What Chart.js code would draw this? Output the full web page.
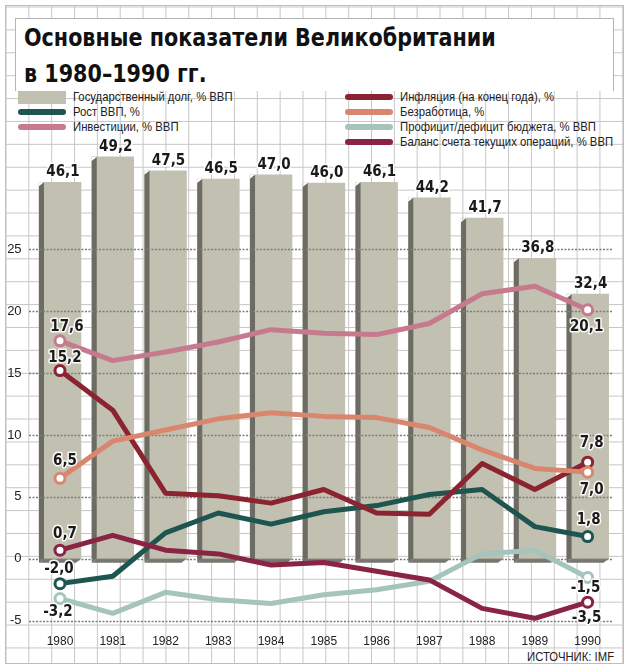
<!DOCTYPE html>
<html>
<head>
<meta charset="utf-8">
<script src="https://cdn.jsdelivr.net/npm/chart.js@4.4.1/dist/chart.umd.min.js"></script>
<style>
  body { margin: 0; background: #fff; width: 629px; height: 672px; overflow: hidden; position: relative; }
  #paper {
    position: absolute; left: 5px; top: 5px; width: 617px; height: 657px;
    border: 1px solid #bdbdbd;
    background-color: #fff;
    background-image: linear-gradient(to right, #c6c6c6 1px, transparent 1px),
                      linear-gradient(to bottom, #c6c6c6 1px, transparent 1px);
    background-size: 22.85px 22.9px;
    background-position: -0.5px 0.5px;
  }
  #titlebox {
    position: absolute; left: 15px; top: 18px; width: 597px; height: 72px;
    background: #fff; border: 1px solid #b5b5b5; border-bottom: none;
  }
  #title {
    position: absolute; left: 24px; top: 20px;
    font-family: "DejaVu Sans Condensed", "DejaVu Sans"; font-weight: bold;
    font-size: 25px; line-height: 36px; color: #111; white-space: nowrap;
    transform: scaleX(0.92); transform-origin: left top;
  }
  .leg { position: absolute; height: 14px; font-family: "Liberation Sans", Arial; font-size: 13px; color: #222; white-space: nowrap; }
  .leg span.sw { position: absolute; left: 0; }
  .leg span.tx { position: absolute; line-height: 14px; top: 0; transform: scaleX(0.87); transform-origin: left top; }
  #src { position: absolute; right: 15px; top: 649px; font-family: "Liberation Sans", Arial; font-size: 13px; color: #222;
         transform: scaleX(0.87); transform-origin: right top; }
  canvas { position: absolute; left: 0; top: 0; }
</style>
</head>
<body>
<div id="paper"></div>
<div id="titlebox"></div>
<div id="title">Основные показатели Великобритании<br>в 1980–1990 гг.</div>
<div id="legend"></div>
<div id="src">ИСТОЧНИК: IMF</div>
<canvas id="chart" width="629" height="672"></canvas>
<script>
const years = ["1980", "1981", "1982", "1983", "1984", "1985", "1986", "1987", "1988", "1989", "1990"];
const debt = [46.1, 49.2, 47.5, 46.5, 47.0, 46.0, 46.1, 44.2, 41.7, 36.8, 32.4];
const gdpGrowth = [-2.0, -1.4, 2.1, 3.7, 2.8, 3.8, 4.3, 5.2, 5.6, 2.6, 1.8];
const investment = [17.6, 16.0, 16.7, 17.5, 18.5, 18.2, 18.1, 19.0, 21.4, 22.0, 20.1];
const inflation = [15.2, 12.0, 5.3, 5.1, 4.5, 5.6, 3.7, 3.6, 7.7, 5.6, 7.8];
const unemployment = [6.5, 9.5, 10.4, 11.3, 11.8, 11.5, 11.4, 10.6, 8.8, 7.3, 7.0];
const budget = [-3.2, -4.4, -2.7, -3.3, -3.6, -2.9, -2.5, -1.8, 0.4, 0.7, -1.5];
const account = [0.7, 1.9, 0.7, 0.4, -0.5, -0.3, -1.0, -1.7, -4.0, -4.8, -3.5];
const yTicks = [-5, 0, 5, 10, 15, 20, 25];

const yMin = -5.5, yMax = 33;
const barK = 1.5165; // bar axis is stretched vs line axis, zero shared

const faceColor = "#c2c0b1";
const lines = [
  { label: "Рост ВВП, %", data: gdpGrowth, color: "#1e5550", first: [-1, -15], last: [1, -16] },
  { label: "Инвестиции, % ВВП", data: investment, color: "#c77a8d", first: [7, -14], last: [-1, 17] },
  { label: "Инфляция (на конец года), %", data: inflation, color: "#8c2330", first: [5, -12], last: [4, -19] },
  { label: "Безработица, %", data: unemployment, color: "#d9866f", first: [5, -17], last: [4, 18] },
  { label: "Профицит/дефицит бюджета, % ВВП", data: budget, color: "#a5c4bb", first: [-2, 14], last: [-2, 11] },
  { label: "Баланс счета текущих операций, % ВВП", data: account, color: "#8a2444", first: [5, -16], last: [-1, 16] },
];

// legend (html, two columns)
const legendItems = [
  { text: "Государственный долг, % ВВП", color: faceColor, bar: true, x: 18, y: 97 },
  { text: lines[0].label, color: lines[0].color, x: 18, y: 112 },
  { text: lines[1].label, color: lines[1].color, x: 18, y: 127 },
  { text: lines[2].label, color: lines[2].color, x: 345, y: 97 },
  { text: lines[3].label, color: lines[3].color, x: 345, y: 112 },
  { text: lines[4].label, color: lines[4].color, x: 345, y: 127 },
  { text: lines[5].label, color: lines[5].color, x: 345, y: 142 },
];
const legendEl = document.getElementById("legend");
legendItems.forEach(it => {
  const d = document.createElement("div");
  d.className = "leg";
  d.style.left = it.x + "px";
  d.style.top = (it.y - 7) + "px";
  const sw = document.createElement("span");
  sw.className = "sw";
  sw.style.width = "48px";
  sw.style.background = it.color;
  if (it.bar) { sw.style.height = "13px"; sw.style.top = "1px"; }
  else { sw.style.height = "6px"; sw.style.top = "4px"; sw.style.borderRadius = "3px"; }
  const tx = document.createElement("span");
  tx.className = "tx";
  tx.style.left = "55px";
  tx.textContent = it.text;
  d.appendChild(sw);
  d.appendChild(tx);
  legendEl.appendChild(d);
});

function fmt(v) { return v.toFixed(1).replace(".", ","); }

function drawLabel(ctx, text, x, y) {
  ctx.font = "bold 15px 'DejaVu Sans Condensed', 'DejaVu Sans'";
  ctx.textAlign = "center";
  ctx.textBaseline = "middle";
  ctx.lineJoin = "round";
  ctx.lineWidth = 3;
  ctx.strokeStyle = "rgba(255,255,255,0.9)";
  ctx.strokeText(text, x, y);
  ctx.fillStyle = "#1a1a1a";
  ctx.fillText(text, x, y);
}

const bar3d = {
  id: "bar3d",
  afterDatasetDraw(chart, args) {
    if (args.index !== 0) return;
    const ctx = chart.ctx;
    const d = 5, h = 4;
    ctx.save();
    args.meta.data.forEach(b => {
      const L = b.x - b.width / 2, R = b.x + b.width / 2, T = b.y, B = b.base;
      ctx.globalCompositeOperation = "destination-out";
      ctx.beginPath();
      ctx.moveTo(L, T); ctx.lineTo(L + d, T); ctx.lineTo(L, T + h); ctx.closePath();
      ctx.fill();
      ctx.globalCompositeOperation = "source-over";
      ctx.fillStyle = "#6c6c64";
      ctx.beginPath();
      ctx.moveTo(L + d, T); ctx.lineTo(L, T + h); ctx.lineTo(L, B + h); ctx.lineTo(L + d, B);
      ctx.closePath(); ctx.fill();
      ctx.fillStyle = "#77776f";
      ctx.beginPath();
      ctx.moveTo(L + d, B); ctx.lineTo(R, B); ctx.lineTo(R - d, B + h); ctx.lineTo(L, B + h);
      ctx.closePath(); ctx.fill();
    });
    // dotted grid on top of bars, under lines
    const ys = chart.scales.y;
    ctx.strokeStyle = "#7d7d7d";
    ctx.lineWidth = 1.6;
    ctx.setLineDash([2, 1.5]);
    yTicks.forEach(v => {
      const py = Math.round(ys.getPixelForValue(v)) + 0.5;
      ctx.beginPath();
      ctx.moveTo(29, py);
      ctx.lineTo(612, py);
      ctx.stroke();
    });
    ctx.restore();
  },
  afterDatasetsDraw(chart) {
    const ctx = chart.ctx;
    ctx.save();
    chart.getDatasetMeta(0).data.forEach((b, i) => {
      drawLabel(ctx, fmt(debt[i]), b.x + 3, b.y - 10);
    });
    lines.forEach((ln, k) => {
      const pts = chart.getDatasetMeta(k + 1).data;
      const n = pts.length - 1;
      drawLabel(ctx, fmt(ln.data[0]), pts[0].x + ln.first[0], pts[0].y + ln.first[1]);
      drawLabel(ctx, fmt(ln.data[n]), pts[n].x + ln.last[0], pts[n].y + ln.last[1]);
    });
    ctx.restore();
  }
};

const endPoint = c => (c.dataIndex === 0 || c.dataIndex === years.length - 1) ? 5 : 0;

const datasets = [
  {
    type: "bar", label: "Государственный долг, % ВВП", data: debt, yAxisID: "y1",
    backgroundColor: faceColor, borderWidth: 0, barThickness: 42, order: 10
  }
].concat(lines.map((ln, k) => ({
  type: "line", label: ln.label, data: ln.data, yAxisID: "y",
  borderColor: ln.color, borderWidth: 5, tension: 0, fill: false,
  borderCapStyle: "round", borderJoinStyle: "round",
  pointRadius: endPoint, pointHoverRadius: endPoint,
  pointBackgroundColor: "#fff", pointBorderColor: ln.color, pointBorderWidth: 3,
  order: 6 - k
})));

new Chart(document.getElementById("chart").getContext("2d"), {
  data: { labels: years, datasets: datasets },
  options: {
    responsive: false,
    animation: false,
    devicePixelRatio: 1,
    layout: { padding: { top: 150, left: 0, right: 15, bottom: 0 } },
    plugins: { legend: { display: false }, tooltip: { enabled: false } },
    scales: {
      x: {
        grid: { display: false }, border: { display: false },
        ticks: { color: "#222", padding: -1, font: { family: "'Liberation Sans', Arial", size: 12 } },
        afterFit: s => { s.height = 45; }
      },
      y: {
        position: "left", min: yMin, max: yMax,
        grid: { display: false }, border: { display: false },
        ticks: { color: "#222", padding: 4, font: { family: "'Liberation Sans', Arial", size: 13 } },
        afterBuildTicks: s => { s.ticks = yTicks.map(v => ({ value: v })); },
        afterFit: s => { s.width = 33.6; }
      },
      y1: {
        display: false, min: yMin * barK, max: yMax * barK
      }
    }
  },
  plugins: [bar3d]
});
</script>
</body>
</html>
